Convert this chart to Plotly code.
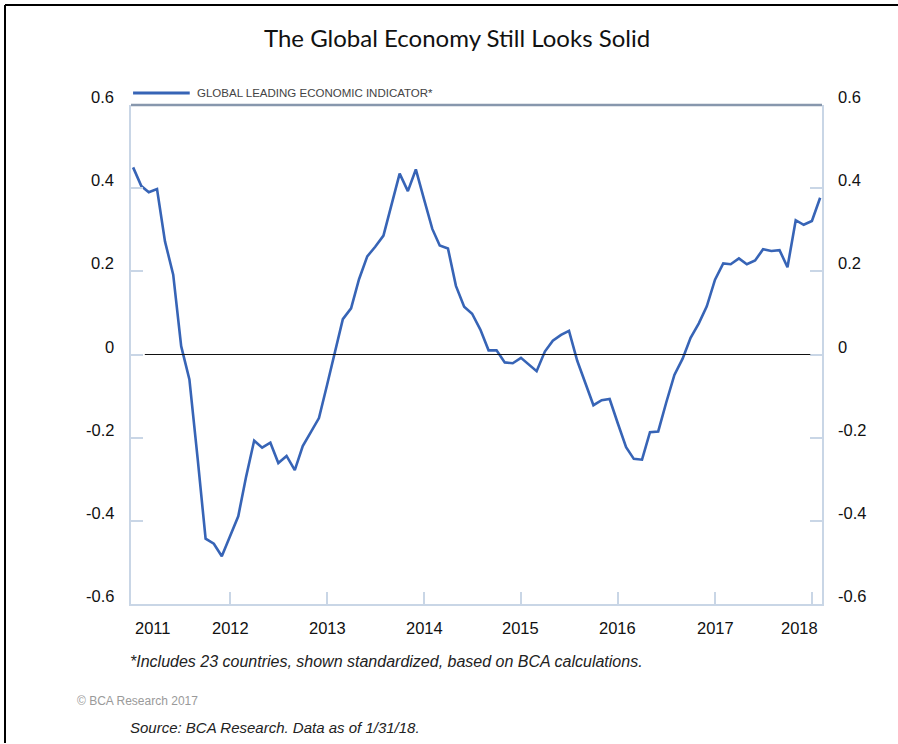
import pandas as pd
import plotly.graph_objects as go

# ---- data ----
start_month = "2011-01-01"
gli_values = [
    # 2011
    0.450, 0.405, 0.390, 0.398, 0.272, 0.192, 0.020, -0.060, -0.250, -0.443, -0.455, -0.485,
    # 2012
    -0.437, -0.389, -0.296, -0.207, -0.224, -0.212, -0.261, -0.244, -0.278, -0.220, -0.186, -0.153,
    # 2013
    -0.072, 0.010, 0.085, 0.111, 0.181, 0.236, 0.259, 0.286, 0.361, 0.435, 0.393, 0.445,
    # 2014
    0.373, 0.302, 0.262, 0.255, 0.165, 0.115, 0.098, 0.060, 0.010, 0.010, -0.019, -0.021,
    # 2015
    -0.008, -0.024, -0.040, 0.007, 0.033, 0.047, 0.057, -0.015, -0.068, -0.122, -0.110, -0.107,
    # 2016
    -0.166, -0.223, -0.251, -0.253, -0.187, -0.185, -0.116, -0.049, -0.010, 0.040, 0.075, 0.116,
    # 2017
    0.180, 0.219, 0.217, 0.231, 0.217, 0.226, 0.253, 0.249, 0.251, 0.210, 0.323, 0.312,
    # 2018
    0.321, 0.377,
]
dates = pd.date_range(start_month, periods=len(gli_values), freq="MS")

year_labels = ["2011", "2012", "2013", "2014", "2015", "2016", "2017", "2018"]
y_tick_values = [0.6, 0.4, 0.2, 0, -0.2, -0.4, -0.6]
y_tick_labels = ["0.6", "0.4", "0.2", "0", "-0.2", "-0.4", "-0.6"]

series_name = "GLOBAL LEADING ECONOMIC INDICATOR*"
title_text = "The Global Economy Still Looks Solid"
footnote_text = "*Includes 23 countries, shown standardized, based on BCA calculations."
copyright_text = "\u00a9 BCA Research 2017"
source_text = "Source: BCA Research. Data as of 1/31/18."

# ---- styling ----
LINE_BLUE = "#3764b6"
FRAME_LIGHT = "#c9d6e6"
FRAME_TOP = "#8797ad"
NARROW = "Liberation Sans Narrow, Arial Narrow, Liberation Sans, sans-serif"
TITLE_FONT = "Lato, Open Sans, sans-serif"

fig = go.Figure()
fig.add_trace(go.Scatter(
    x=dates, y=gli_values, mode="lines", name=series_name,
    line=dict(color=LINE_BLUE, width=2.6), showlegend=False,
))
# invisible trace to activate the right axis
fig.add_trace(go.Scatter(x=[dates[0]], y=[gli_values[0]], yaxis="y2",
                         mode="lines", line=dict(width=0), showlegend=False,
                         hoverinfo="skip"))

x_start = pd.Timestamp("2010-12-24")
x_end = pd.Timestamp("2018-02-08")
year_ticks = [pd.Timestamp(f"{y}-01-01") for y in year_labels]

fig.update_layout(
    width=898, height=744,
    margin=dict(l=131, r=76, t=105, b=140),
    paper_bgcolor="white", plot_bgcolor="white",
    xaxis=dict(
        range=[x_start, x_end], showgrid=False, zeroline=False,
        tickvals=year_ticks[1:], ticks="inside", ticklen=12, tickwidth=1.5,
        tickcolor=FRAME_LIGHT, showticklabels=False,
        showline=True, linecolor=FRAME_LIGHT, linewidth=2,
    ),
    yaxis=dict(
        range=[-0.6, 0.6], showgrid=False, zeroline=False,
        tickvals=y_tick_values[1:-1], ticks="inside", ticklen=12, tickwidth=1.5,
        tickcolor=FRAME_LIGHT, showticklabels=False,
        showline=True, linecolor=FRAME_LIGHT, linewidth=2,
    ),
    yaxis2=dict(
        range=[-0.6, 0.6], overlaying="y", side="right", showgrid=False,
        zeroline=False, tickvals=y_tick_values[1:-1], ticks="inside", ticklen=12,
        tickwidth=1.5, tickcolor=FRAME_LIGHT, showticklabels=False,
        showline=True, linecolor=FRAME_LIGHT, linewidth=2,
    ),
)

shapes = []
# top frame line of plot area
shapes.append(dict(type="line", xref="paper", yref="paper", x0=0, x1=1, y0=1, y1=1,
                   line=dict(color=FRAME_TOP, width=2.5)))
# zero reference line
shapes.append(dict(type="line", xref="paper", yref="y", x0=0.02, x1=0.983, y0=0, y1=0,
                   line=dict(color="#111111", width=1.2)))
# legend swatch
shapes.append(dict(type="line", xref="paper", yref="paper", x0=0.003, x1=0.085,
                   y0=1.024, y1=1.024, line=dict(color=LINE_BLUE, width=3)))
# outer black frame (left and top)
shapes.append(dict(type="line", xref="paper", yref="paper",
                   x0=-126/691, x1=-126/691, y0=-139/499, y1=1 + 100/499,
                   line=dict(color="#000000", width=2)))
shapes.append(dict(type="line", xref="paper", yref="paper",
                   x0=-126/691, x1=1 + 76/691, y0=1 + 100/499, y1=1 + 100/499,
                   line=dict(color="#000000", width=2)))
fig.update_layout(shapes=shapes)

ann = []
ann.append(dict(text=title_text, xref="paper", yref="paper", x=(457 - 131) / 691,
                y=1 + (105 - 38) / 499, xanchor="center", yanchor="middle",
                showarrow=False, font=dict(family=TITLE_FONT, size=24, color="#111111")))
ann.append(dict(text=series_name, xref="paper", yref="paper", x=(195 - 131) / 691,
                y=1.024, xanchor="left", yanchor="middle", showarrow=False,
                font=dict(family=NARROW, size=11.5, color="#444444")))
for v, lab in zip(y_tick_values, y_tick_labels):
    ann.append(dict(text=lab, xref="paper", yref="y", x=0, y=v, xanchor="right",
                    yanchor="middle", xshift=-15, yshift=8, showarrow=False,
                    font=dict(family=NARROW, size=16.5, color="#111111")))
    ann.append(dict(text=lab, xref="paper", yref="y", x=1, y=v, xanchor="left",
                    yanchor="middle", xshift=14, yshift=8, showarrow=False,
                    font=dict(family=NARROW, size=16.5, color="#111111")))
for i, (t, lab) in enumerate(zip(year_ticks, year_labels)):
    if i == 0:
        anchor, shift = "left", 0
    elif i == len(year_labels) - 1:
        anchor, shift = "right", 8
    else:
        anchor, shift = "center", 0
    ann.append(dict(text=lab, xref="x", yref="paper", x=t, y=-(628 - 604) / 499,
                    xanchor=anchor, yanchor="middle", xshift=shift, showarrow=False,
                    font=dict(family=NARROW, size=16.5, color="#111111")))
ann.append(dict(text=f"<i>{footnote_text}</i>", xref="paper", yref="paper",
                x=(128 - 131) / 691, y=-(661 - 604) / 499, xanchor="left",
                yanchor="middle", showarrow=False,
                font=dict(family=NARROW, size=16, color="#222222")))
ann.append(dict(text=copyright_text, xref="paper", yref="paper",
                x=(75 - 131) / 691, y=-(701 - 604) / 499, xanchor="left",
                yanchor="middle", showarrow=False,
                font=dict(family=NARROW, size=12, color="#9a9a9a")))
ann.append(dict(text=f"<i>{source_text}</i>", xref="paper", yref="paper",
                x=(128 - 131) / 691, y=-(727 - 604) / 499, xanchor="left",
                yanchor="middle", showarrow=False,
                font=dict(family=NARROW, size=15, color="#222222")))
fig.update_layout(annotations=ann)

fig.write_html("out.html")
